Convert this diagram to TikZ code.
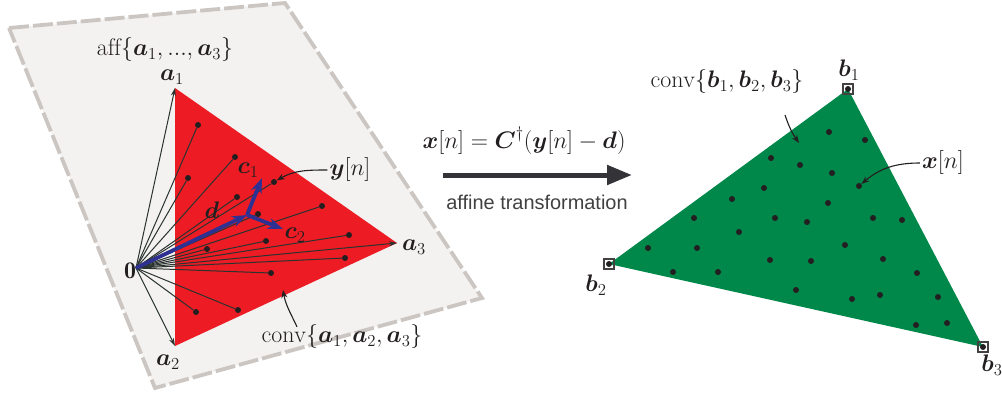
\RequirePackage{fix-cm}
\documentclass[tikz,border=0pt]{standalone}
\usepackage{amsmath}
\usepackage{fontspec}
\newfontfamily\capsans{Liberation Sans}
\usetikzlibrary{arrows.meta}

\begin{document}
\begin{tikzpicture}[x=1bp,y=1bp,every node/.style={font=\fontsize{24}{28}\selectfont,inner sep=0,text=ink},>=Stealth,
  dot/.style={circle,fill=ink,minimum size=6bp},
  ray/.style={draw=rayc,line width=1bp},
  vec/.style={draw=vblue,line width=3.8bp,-{Stealth[length=15bp,width=11bp]}},
  lead/.style={draw=ink,line width=1.1bp,-{Stealth[length=8bp,width=6bp]}},
  corner/.style={draw=ink!85,line width=1.5bp,minimum size=10bp}]
\path[use as bounding box] (0,0) rectangle (1002,393);
\definecolor{ink}{HTML}{231F20}
\definecolor{rayc}{HTML}{2A3330}
\definecolor{vblue}{HTML}{2E3192}
\definecolor{redfill}{HTML}{ED1C24}
\definecolor{greenfill}{HTML}{00874A}
\definecolor{plane}{HTML}{F3F2F1}
\definecolor{edge}{HTML}{CCC6C2}
\definecolor{arrowc}{HTML}{333338}
% left: affine hull and simplex of the a's
\draw[draw=edge,fill=plane,line width=3.8bp,dash pattern=on 20bp off 4bp] (9,365) -- (285,390) -- (482,95) -- (155,5) -- cycle;
\coordinate (O) at (136,125);
\coordinate (A1) at (175,305);
\coordinate (A2) at (175,47);
\coordinate (A3) at (397,150);
\fill[redfill] (A1) -- (A2) -- (A3) -- cycle;
\foreach \a in {A1,A2,A3}{\draw[ray,-{Stealth[length=8bp,width=5bp]}] (O) -- (\a);}
\foreach \x/\y [count=\i] in {198/268,188/215,235/236,237/196,274/211,258/179,322/187,349/158,266/152,207/144,345/135,271/120,238/83,196/81}{
  \node[dot] (p\i) at (\x,\y) {};
  \draw[ray] (O) -- (p\i);}
\coordinate (D) at (247,178);
\draw[vec] (O) -- (D);
\draw[vec] (D) -- (262,215) coordinate (C1);
\draw[vec] (D) -- (283,164) coordinate (C2);
\node (l0) at (130,122) {$\mathbf{0}$};
\node (la1) at (172,316) {$\boldsymbol{a}_1$};
\node (la2) at (168,31) {$\boldsymbol{a}_2$};
\node (la3) at (414,146) {$\boldsymbol{a}_3$};
\node (lc1) at (248,223) {$\boldsymbol{c}_1$};
\node (ld) at (212,183) {$\boldsymbol{d}$};
\node (lc2) at (295,158) {$\boldsymbol{c}_2$};
\node (lyn) at (350,223) {$\boldsymbol{y}[n]$};
\node (laff) at (165,343) {$\mathrm{aff}\{\boldsymbol{a}_1,...,\boldsymbol{a}_3\}$};
\node (lconva) at (342,56) {$\mathrm{conv}\{\boldsymbol{a}_1,\boldsymbol{a}_2,\boldsymbol{a}_3\}$};
\draw[lead] ([xshift=-2bp]lyn.west) to[out=180,in=30] (p5);
\coordinate (ca) at (283,103);
\draw[lead] ([xshift=-45bp,yshift=-2bp]lconva.north) to[out=115,in=-80] (ca);
% middle: the map
\node (eq) at (524,252) {$\boldsymbol{x}[n]=\boldsymbol{C}^{\dagger}(\boldsymbol{y}[n]-\boldsymbol{d})$};
\node[font=\capsans\fontsize{20}{24}\selectfont,text=black!75] (lmap) at (537,191) {affine transformation};
\coordinate (t0) at (443,218);
\coordinate (t1) at (632,218);
\draw[draw=arrowc,line width=5bp,-{Triangle[length=25bp,width=19bp]}] (t0) -- (t1);
% right: simplex of the b's
\coordinate (B1) at (848,304);
\coordinate (B2) at (609,129);
\coordinate (B3) at (983,46);
\fill[greenfill] (B1) -- (B2) -- (B3) -- cycle;
\foreach \x/\y [count=\i] in {829/261,865/253,771/235,800/228,832/220,859/207,764/205,732/194,828/190,694/175,775/175,807/171,873/175,902/173,739/161,648/145,697/145,845/148,770/133,811/132,883/134,673/121,718/121,917/120,796/103,852/94,880/98,938/96,916/68,947/70}{
  \node[dot] (q\i) at (\x,\y) {};}
\foreach \b in {B1,B2,B3}{\node[dot] at (\b) {}; \node[corner] at (\b) {};}
\node (lb1) at (849,323) {$\boldsymbol{b}_1$};
\node (lb2) at (596,108) {$\boldsymbol{b}_2$};
\node (lb3) at (992,28) {$\boldsymbol{b}_3$};
\node (lconvb) at (727,311) {$\mathrm{conv}\{\boldsymbol{b}_1,\boldsymbol{b}_2,\boldsymbol{b}_3\}$};
\node (lxn) at (943,230) {$\boldsymbol{x}[n]$};
\coordinate (cb0) at (785,278);
\coordinate (cb1) at (799,250);
\draw[lead] (cb0) to[bend right=8] (cb1);
\draw[lead] ([xshift=-2bp]lxn.west) to[out=180,in=40] (q6);
\end{tikzpicture}
\end{document}
